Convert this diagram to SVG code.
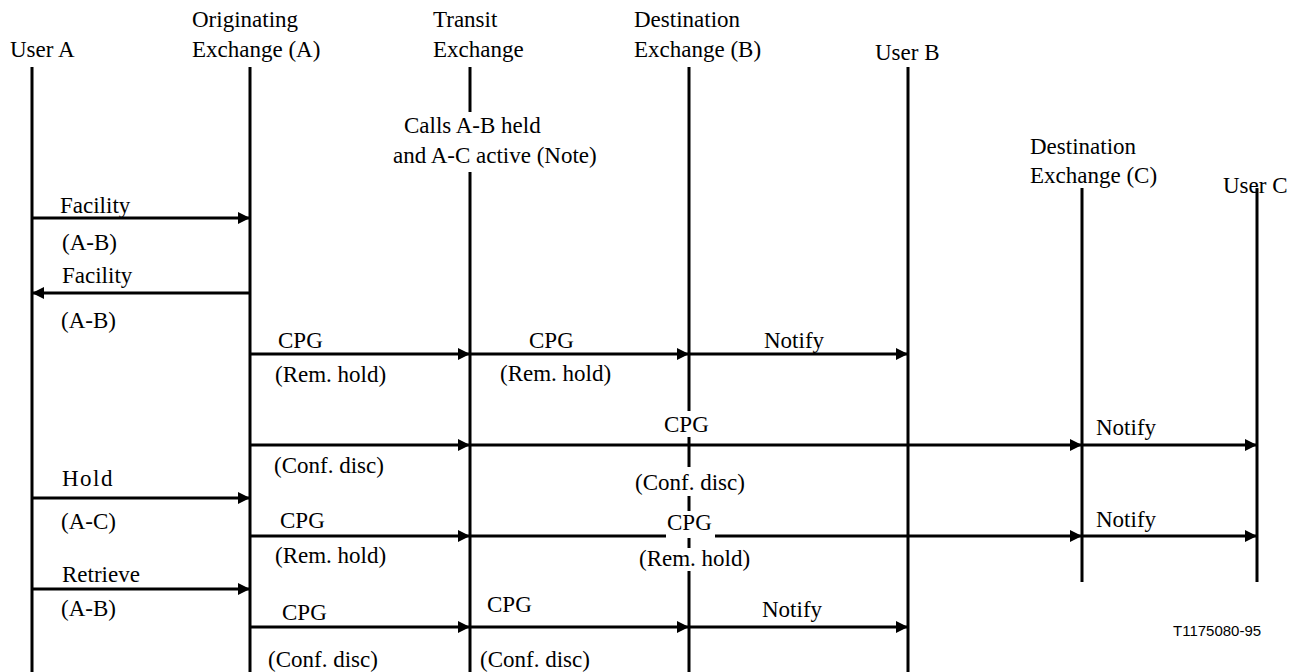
<svg xmlns="http://www.w3.org/2000/svg" width="1304" height="672" viewBox="0 0 1304 672">
<style>
text{font-family:'Liberation Serif','Times New Roman',serif;font-size:23px;fill:#000}
.life{stroke:#000;stroke-width:3;fill:none}
.msg{stroke:#000;stroke-width:3;fill:none;marker-end:url(#ah)}
.bg{fill:#fff;stroke:none}
text.ref{font-family:'Liberation Sans',Arial,sans-serif;font-size:15px}
</style>
<defs>
<marker id="ah" markerUnits="userSpaceOnUse" markerWidth="13" markerHeight="12" refX="12" refY="6" orient="auto" viewBox="0 0 13 12">
<path d="M0,0 L12,6 L0,12 z" fill="#000"/>
</marker>
</defs>
<rect width="1304" height="672" fill="#fff"/>
<g id="userA">
<text x="10" y="57">User A</text>
<line class="life" x1="32" y1="67" x2="32" y2="672"/>
</g>
<g id="origA">
<text x="192" y="27">Originating</text>
<text x="192" y="57">Exchange (A)</text>
<line class="life" x1="250" y1="67" x2="250" y2="672"/>
</g>
<g id="transit">
<text x="433" y="27">Transit</text>
<text x="433" y="57">Exchange</text>
<line class="life" x1="470" y1="67" x2="470" y2="112"/>
<line class="life" x1="470" y1="172" x2="470" y2="672"/>
<text x="404" y="133">Calls A-B held</text>
<text x="393" y="163">and A-C active (Note)</text>
</g>
<g id="destB">
<text x="634" y="27">Destination</text>
<text x="634" y="57">Exchange (B)</text>
<line class="life" x1="689" y1="67" x2="689" y2="672"/>
</g>
<g id="userB">
<text x="875" y="60">User B</text>
<line class="life" x1="908" y1="67" x2="908" y2="672"/>
</g>
<g id="destC">
<text x="1030" y="154">Destination</text>
<text x="1030" y="183">Exchange (C)</text>
<line class="life" x1="1082" y1="188" x2="1082" y2="582"/>
</g>
<g id="userC">
<text x="1223" y="193">User C</text>
<line class="life" x1="1257" y1="188" x2="1257" y2="582"/>
</g>
<g id="connectors">
<line class="msg" x1="32" y1="218" x2="250" y2="218"/>
<line class="msg" x1="250" y1="293" x2="32" y2="293"/>
<line class="msg" x1="250" y1="354" x2="470" y2="354"/>
<line class="msg" x1="470" y1="354" x2="689" y2="354"/>
<line class="msg" x1="689" y1="354" x2="908" y2="354"/>
<line class="msg" x1="250" y1="445" x2="470" y2="445"/>
<line class="msg" x1="470" y1="445" x2="1082" y2="445"/>
<line class="msg" x1="1082" y1="445" x2="1257" y2="445"/>
<line class="msg" x1="32" y1="498" x2="250" y2="498"/>
<line class="msg" x1="250" y1="536" x2="470" y2="536"/>
<line class="msg" x1="470" y1="536" x2="1082" y2="536"/>
<line class="msg" x1="1082" y1="536" x2="1257" y2="536"/>
<line class="msg" x1="32" y1="589" x2="250" y2="589"/>
<line class="msg" x1="250" y1="627" x2="470" y2="627"/>
<line class="msg" x1="470" y1="627" x2="689" y2="627"/>
<line class="msg" x1="689" y1="627" x2="908" y2="627"/>
</g>
<g id="labels">
<rect class="bg" x="661" y="411" width="52" height="26"/>
<rect class="bg" x="632" y="467" width="122" height="29"/>
<rect class="bg" x="666" y="511" width="49" height="27"/>
<rect class="bg" x="636" y="548" width="122" height="23"/>
<text x="60" y="213">Facility</text>
<text x="62" y="250">(A-B)</text>
<text x="62" y="283">Facility</text>
<text x="61" y="328">(A-B)</text>
<text x="278" y="348">CPG</text>
<text x="275" y="382">(Rem. hold)</text>
<text x="529" y="348">CPG</text>
<text x="500" y="381">(Rem. hold)</text>
<text x="764" y="348">Notify</text>
<text x="664" y="432">CPG</text>
<text x="274" y="473">(Conf. disc)</text>
<text x="635" y="490">(Conf. disc)</text>
<text x="1096" y="435">Notify</text>
<text x="62" y="486" letter-spacing="1.5">Hold</text>
<text x="61" y="529">(A-C)</text>
<text x="280" y="528">CPG</text>
<text x="275" y="563">(Rem. hold)</text>
<text x="667" y="530">CPG</text>
<text x="639" y="566">(Rem. hold)</text>
<text x="1096" y="527">Notify</text>
<text x="62" y="582">Retrieve</text>
<text x="61" y="616">(A-B)</text>
<text x="282" y="620">CPG</text>
<text x="268" y="667">(Conf. disc)</text>
<text x="487" y="612">CPG</text>
<text x="480" y="667">(Conf. disc)</text>
<text x="762" y="617">Notify</text>
<text class="ref" x="1173" y="636">T1175080-95</text>
</g>
</svg>
